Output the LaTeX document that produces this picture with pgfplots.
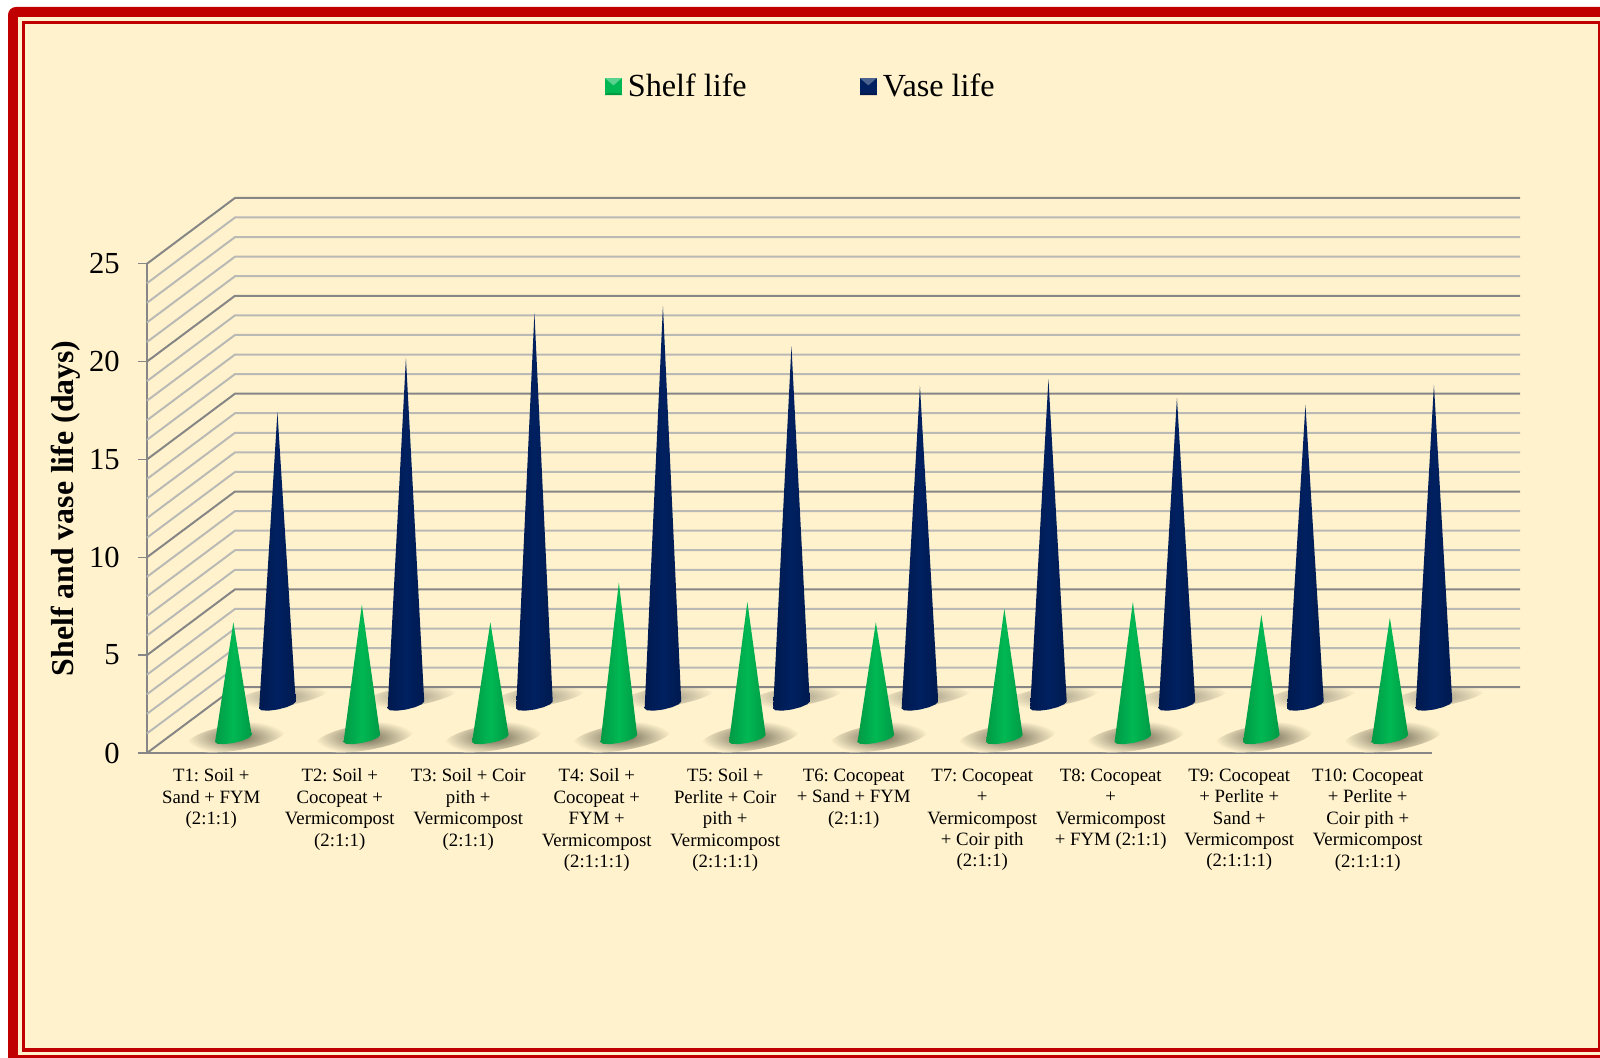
\documentclass[border=0pt]{standalone}
\usepackage{pgfplots}
\usepackage{pgfplotstable}
\usepackage{fontspec}
\setmainfont{Liberation Serif}
\pgfplotsset{compat=1.18}
\frenchspacing

\definecolor{cream}{HTML}{FFF2CC}
\definecolor{framered}{HTML}{C00000}
\definecolor{majorline}{HTML}{868686}
\definecolor{minorline}{HTML}{B9B9B5}
\definecolor{shadowtone}{HTML}{6E6852}
\definecolor{shadowlight}{HTML}{A09983}
\definecolor{greenmid}{HTML}{00B853}
\definecolor{greenedge}{HTML}{009A45}
\definecolor{navymid}{HTML}{002060}
\definecolor{navyedge}{HTML}{001A4F}

% category, shelf life and vase life in days
\pgfplotstableread{
cat shelf vase
0   5.94  14.98
1   6.83  17.74
2   5.94  20.04
3   7.97  20.40
4   6.98  18.35
5   5.94  16.31
6   6.63  16.66
7   6.98  15.70
8   6.32  15.34
9   6.17  16.36
}\lifedata

% One cone: x of the base centre, y of the base centre, height, edge and middle colour
\newcommand{\conepath}[5]{%
  \pgfmathsetmacro{\xa}{#1-0.1423}\pgfmathsetmacro{\ya}{#2-0.179}%
  \pgfmathsetmacro{\xb}{#1-0.1233}\pgfmathsetmacro{\yb}{#2-0.270}%
  \pgfmathsetmacro{\xc}{#1-0.0712}\pgfmathsetmacro{\yc}{#2-0.289}%
  \pgfmathsetmacro{\xd}{#1}\pgfmathsetmacro{\yd}{#2-0.230}%
  \pgfmathsetmacro{\xe}{#1+0.0712}\pgfmathsetmacro{\ye}{#2-0.110}%
  \pgfmathsetmacro{\xf}{#1+0.1233}\pgfmathsetmacro{\yf}{#2+0.040}%
  \pgfmathsetmacro{\xg}{#1+0.1423}\pgfmathsetmacro{\yg}{#2+0.179}%
  \pgfmathsetmacro{\ytip}{#2+#3}%
  \addplot[forget plot, draw=none, left color=#4, right color=#4, middle color=#5]
    coordinates {(\xa,\ya) (\xb,\yb) (\xc,\yc) (\xd,\yd) (\xe,\ye) (\xf,\yf) (\xg,\yg) (#1,\ytip)} -- cycle;
}

\begin{document}
\begin{tikzpicture}
\path[use as bounding box] (0,0) rectangle (800pt,529pt);

% double frame around the panel
\begin{scope}[x=0.5pt,y=-0.5pt,yshift=529pt]
  \clip (0,0) rectangle (1600,1058);
  \fill[white] (0,0) rectangle (1600,1058);
  \fill[framered,rounded corners=4pt] (8,7) rectangle (1720,1160);
  \fill[cream] (18,17.5) rectangle (1700,1055);
  \fill[framered] (22,21) rectangle (1600.5,1052.3);
  \fill[cream] (25.3,24.5) rectangle (1598,1048.3);
\end{scope}

\begin{axis}[
  at={(73.5pt,152.5pt)}, anchor=south west,
  scale only axis, width=642.5pt, height=244.65pt,
  xmin=0, xmax=10, ymin=0, ymax=25,
  clip=false,
  axis x line=bottom, axis y line=left,
  axis line style={draw=majorline, line width=1pt, -},
  ytick={0,5,...,25},
  tick align=outside,
  ytick style={draw=majorline, line width=0.7pt},
  major tick length=4.3pt,
  xtick={0.5,1.5,...,9.5},
  xtick style={draw=none},
  xticklabels={
    {T1: Soil +\\Sand + FYM\\(2:1:1)},
    {T2: Soil +\\Cocopeat +\\Vermicompost\\(2:1:1)},
    {T3: Soil + Coir\\pith +\\Vermicompost\\(2:1:1)},
    {T4: Soil +\\Cocopeat +\\FYM +\\Vermicompost\\(2:1:1:1)},
    {T5: Soil +\\Perlite + Coir\\pith +\\Vermicompost\\(2:1:1:1)},
    {T6: Cocopeat\\+ Sand + FYM\\(2:1:1)},
    {T7: Cocopeat\\+\\Vermicompost\\+ Coir pith\\(2:1:1)},
    {T8: Cocopeat\\+\\Vermicompost\\+ FYM (2:1:1)},
    {T9: Cocopeat\\+ Perlite +\\Sand +\\Vermicompost\\(2:1:1:1)},
    {T10: Cocopeat\\+ Perlite +\\Coir pith +\\Vermicompost\\(2:1:1:1)}},
  xticklabel style={align=center, font=\fontsize{9.4}{10.72}\selectfont, inner sep=0pt, yshift=-3.4pt},
  /pgf/number format/assume math mode=true,
  yticklabel style={font=\fontsize{15.3}{18}\selectfont, inner sep=0pt, xshift=-9.2pt},
  ylabel={\textbf{Shelf and vase life (days)}},
  every axis y label/.style={at={(axis description cs:0,0.5)}, rotate=90, anchor=center,
    yshift=40.7pt, font=\fontsize{15.9}{19}\selectfont},
  legend style={
    at={(axis description cs:0.5095,1.362)}, anchor=center,
    draw=none, fill=none, inner sep=0pt,
    legend columns=2, font=\fontsize{16.1}{19}\selectfont,
    /tikz/every odd column/.append style={column sep=1pt},
    /tikz/column 2/.style={column sep=54.5pt},
  },
  legend cell align=left,
]

% legend swatches with bevelled faces
\addlegendimage{legend image code/.code={
  \fill[draw=none,fill=greenmid] (0,-4.25pt) rectangle (8.5pt,4.25pt);
  \fill[draw=none,fill=greenmid!65!white] (0,4.25pt) -- (8.5pt,4.25pt) -- (4.25pt,0.6pt) -- cycle;
  \fill[draw=none,fill=greenedge] (0,-4.25pt) -- (8.5pt,-4.25pt) -- (7.5pt,-3.25pt) -- (1pt,-3.25pt) -- cycle;
}}
\addlegendentry{Shelf life}
\addlegendimage{legend image code/.code={
  \fill[draw=none,fill=navymid] (0,-4.25pt) rectangle (8.5pt,4.25pt);
  \fill[draw=none,fill=navymid!70!white] (0,4.25pt) -- (8.5pt,4.25pt) -- (4.25pt,0.6pt) -- cycle;
  \fill[draw=none,fill=navyedge] (0,-4.25pt) -- (8.5pt,-4.25pt) -- (7.5pt,-3.25pt) -- (1pt,-3.25pt) -- cycle;
}}
\addlegendentry{Vase life}

% soft ground shadows of the back row
\pgfplotsinvokeforeach{0,...,9}{
  \shade[inner color=shadowlight, outer color=cream,
    shift={(axis cs:{#1+1.05},2.9)}, rotate=9]
    (0,0) ellipse [x radius=24pt, y radius=5pt];
}
% the walls stay clear of the floor shadows
\fill[cream] (axis cs:0.685,3.36) rectangle (axis cs:10.685,6);

% wall lines: one per day, darker every five days
\pgfplotsinvokeforeach{1,2,3,4,6,7,8,9,11,12,13,14,16,17,18,19,21,22,23,24}{
  \draw[minorline, line width=1pt] (axis cs:0,#1) -- (axis cs:0.685,{#1+3.36}) -- (axis cs:10.685,{#1+3.36});
}
\pgfplotsinvokeforeach{0,5,...,25}{
  \draw[majorline, line width=1pt] (axis cs:0,#1) -- (axis cs:0.685,{#1+3.36}) -- (axis cs:10.685,{#1+3.36});
}

% soft ground shadows of the front row
\pgfplotsinvokeforeach{0,...,9}{
  \shade[inner color=shadowtone, outer color=cream,
    shift={(axis cs:{#1+0.695},0.8)}, rotate=9]
    (0,0) ellipse [x radius=25pt, y radius=6.5pt];
}

% vase life cones stand at the back, shelf life cones in front of them
\pgfplotsinvokeforeach{0,...,9}{
  \pgfplotstablegetelem{#1}{vase}\of\lifedata
  \pgfmathsetmacro{\basex}{#1+1.015}
  \conepath{\basex}{2.45}{\pgfplotsretval}{navyedge}{navymid}
}
\pgfplotsinvokeforeach{0,...,9}{
  \pgfplotstablegetelem{#1}{shelf}\of\lifedata
  \pgfmathsetmacro{\basex}{#1+0.672}
  \conepath{\basex}{0.741}{\pgfplotsretval}{greenedge}{greenmid}
}
\end{axis}
\end{tikzpicture}
\end{document}
